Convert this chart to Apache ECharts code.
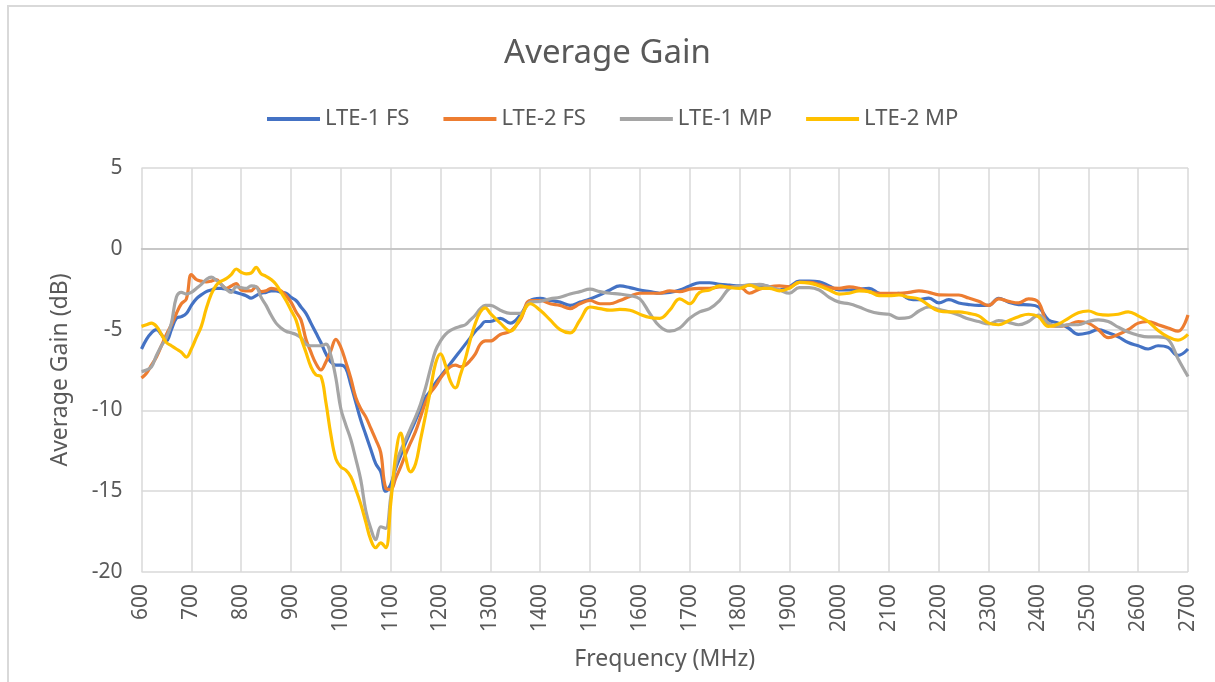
<!DOCTYPE html>
<html>
<head>
<meta charset="utf-8">
<style>
  html, body { margin: 0; padding: 0; background: #fff; }
  #chart { width: 1215px; height: 682px; }
</style>
<script src="https://cdn.jsdelivr.net/npm/echarts@6/dist/echarts.min.js"></script>
</head>
<body>
<div id="chart"></div>
<script>
// frequency grid (MHz): 10 MHz steps up to 1300, then 20 MHz steps
var freq = [
  600, 610, 620, 630, 640, 650, 660, 670, 680, 690,
  700, 710, 720, 730, 740, 750, 760, 770, 780, 790,
  800, 810, 820, 830, 840, 850, 860, 870, 880, 890,
  900, 910, 920, 930, 940, 950, 960, 970, 980, 990,
  1000, 1010, 1020, 1030, 1040, 1050, 1060, 1070, 1080, 1090,
  1100, 1110, 1120, 1130, 1140, 1150, 1160, 1170, 1180, 1190,
  1200, 1210, 1220, 1230, 1240, 1250, 1260, 1270, 1280, 1290,
  1300,
  1320, 1340, 1360, 1380, 1400, 1420, 1440, 1460, 1480, 1500,
  1520, 1540, 1560, 1580, 1600, 1620, 1640, 1660, 1680, 1700,
  1720, 1740, 1760, 1780, 1800, 1820, 1840, 1860, 1880, 1900,
  1920, 1940, 1960, 1980, 2000, 2020, 2040, 2060, 2080, 2100,
  2120, 2140, 2160, 2180, 2200, 2220, 2240, 2260, 2280, 2300,
  2320, 2340, 2360, 2380, 2400, 2420, 2440, 2460, 2480, 2500,
  2520, 2540, 2560, 2580, 2600, 2620, 2640, 2660, 2680, 2700
];

var lte1FS = [
  -6.2, -5.6, -5.2, -5.0, -5.3, -5.7, -5.0, -4.3, -4.2, -4.0,
  -3.5, -3.1, -2.85, -2.65, -2.55, -2.45, -2.45, -2.5, -2.6, -2.7,
  -2.8, -2.9, -3.05, -2.9, -2.75, -2.7, -2.6, -2.6, -2.7, -2.75,
  -3.0, -3.2, -3.6, -4.0, -4.6, -5.2, -5.8, -6.5, -7.0, -7.2,
  -7.2, -7.4, -8.4, -9.5, -10.6, -11.5, -12.4, -13.3, -13.8, -15.0,
  -14.6, -13.6, -12.8, -12.0, -11.3, -10.6, -9.9, -9.2, -8.8, -8.3,
  -7.9, -7.5, -7.1, -6.7, -6.3, -5.9, -5.5, -5.1, -4.8, -4.5,
  -4.5,
  -4.3, -4.6, -4.1, -3.2, -3.06, -3.2, -3.3, -3.5, -3.3, -3.1,
  -2.85, -2.55, -2.3, -2.4, -2.55, -2.65, -2.75, -2.7, -2.55, -2.3,
  -2.1, -2.1, -2.2, -2.25, -2.3, -2.25, -2.25, -2.35, -2.55, -2.35,
  -2.0, -2.0, -2.05, -2.3, -2.55, -2.55, -2.5, -2.45, -2.75, -2.85,
  -2.75, -3.1, -3.15, -3.05, -3.35, -3.15, -3.35, -3.45, -3.5, -3.5,
  -3.06, -3.3, -3.45, -3.47, -3.6, -4.4, -4.6, -4.9, -5.3, -5.2,
  -5.0, -5.2, -5.45, -5.8, -6.0, -6.2, -6.0, -6.1, -6.6, -6.2
];

var lte2FS = [
  -8.0, -7.7, -7.2, -6.7, -6.0, -5.3, -4.7, -4.0, -3.4, -3.1,
  -1.6, -1.9, -2.0, -2.05, -2.0, -1.9, -2.2, -2.45, -2.3, -2.15,
  -2.55, -2.6, -2.6, -2.35, -2.65, -2.6, -2.45, -2.5, -2.6, -2.9,
  -3.3, -3.9, -4.4, -5.6, -6.4, -7.1, -7.5, -7.0, -6.3, -5.6,
  -6.1, -7.0, -8.0, -9.2, -9.9, -10.4, -11.1, -11.8, -12.6, -14.8,
  -14.9, -14.2, -13.5, -12.7, -12.0, -11.3, -10.4, -9.5, -8.9, -8.5,
  -8.0, -7.6, -7.3, -7.2, -7.3, -7.2, -6.9, -6.5, -5.9, -5.7,
  -5.7,
  -5.3, -5.1, -4.4, -3.2, -3.2, -3.4, -3.5, -3.7, -3.4, -3.2,
  -3.4, -3.4, -3.2, -2.95, -2.75, -2.75, -2.75, -2.6, -2.65, -2.5,
  -2.45, -2.45, -2.35, -2.35, -2.35, -2.75, -2.5, -2.35, -2.3, -2.35,
  -2.08, -2.08, -2.2, -2.4, -2.45, -2.35, -2.45, -2.65, -2.75, -2.75,
  -2.75, -2.7, -2.6, -2.7, -2.85, -2.86, -2.86, -3.05, -3.25, -3.5,
  -3.1, -3.25, -3.35, -3.1, -3.3, -4.7, -4.8, -4.7, -4.5, -4.6,
  -5.0, -5.5, -5.3, -5.0, -4.6, -4.5, -4.7, -4.9, -5.1, -4.1
];

var lte1MP = [
  -7.6, -7.5, -7.3, -6.6, -6.0, -5.5, -4.6, -3.0, -2.7, -2.8,
  -2.7, -2.45, -2.2, -1.9, -1.75, -1.95, -2.2, -2.5, -2.7, -2.35,
  -2.4, -2.45, -2.3, -2.35, -3.0, -3.5, -4.1, -4.6, -4.9, -5.1,
  -5.2, -5.3, -5.5, -5.9, -6.0, -6.0, -6.0, -5.9, -6.6, -8.0,
  -9.9, -10.9, -11.8, -13.0, -14.3, -16.2, -17.3, -18.0, -17.2, -17.3,
  -15.4, -13.4, -12.5, -11.8, -11.1, -10.4, -9.6, -8.6, -7.4, -6.3,
  -5.7, -5.3, -5.05, -4.9, -4.8, -4.7, -4.4, -4.1, -3.7, -3.5,
  -3.5,
  -3.8, -4.0, -4.0, -3.3, -3.25, -3.1, -3.0, -2.8, -2.65, -2.5,
  -2.65, -2.75, -2.8, -2.9, -3.1, -4.0, -4.8, -5.1, -4.9, -4.3,
  -3.9, -3.7, -3.2, -2.45, -2.3, -2.25, -2.2, -2.35, -2.55, -2.75,
  -2.4, -2.4, -2.55, -3.0, -3.3, -3.4, -3.6, -3.85, -4.0, -4.05,
  -4.3, -4.25, -3.85, -3.6, -3.75, -3.9, -4.1, -4.35, -4.5, -4.65,
  -4.45, -4.55, -4.7, -4.5, -4.1, -4.6, -4.8, -4.7, -4.7, -4.5,
  -4.4, -4.5, -4.85, -5.15, -5.35, -5.45, -5.45, -5.6, -6.8, -7.9
];

var lte2MP = [
  -4.8, -4.7, -4.6, -4.8, -5.3, -5.8, -6.0, -6.2, -6.4, -6.7,
  -6.2, -5.5, -4.8, -3.7, -2.8, -2.25, -2.0, -1.85, -1.6, -1.25,
  -1.45, -1.55, -1.5, -1.15, -1.55, -1.7, -1.9, -2.2, -2.7, -3.2,
  -3.8, -4.4, -5.5, -6.4, -7.3, -7.8, -7.9, -9.5, -11.5, -13.0,
  -13.5, -13.7, -14.1, -14.9, -15.8, -16.9, -18.0, -18.5, -18.2, -18.5,
  -15.8, -12.8, -11.4, -12.9, -13.8, -13.3, -11.8, -10.3, -8.7, -7.1,
  -6.5, -7.2, -8.2, -8.6, -7.8, -6.8, -5.6, -4.6, -3.9, -3.65,
  -4.0,
  -4.6, -5.1, -4.3, -3.4, -3.8, -4.4, -5.0, -5.2, -4.4, -3.6,
  -3.7, -3.8, -3.75, -3.8, -4.05, -4.25, -4.3, -3.8, -3.1, -3.4,
  -2.7, -2.55, -2.3, -2.4, -2.45, -2.25, -2.45, -2.45, -2.6, -2.45,
  -2.08, -2.12, -2.3, -2.55, -2.8, -2.75, -2.6, -2.65, -2.9, -2.9,
  -2.86, -3.0, -3.1, -3.5, -3.85, -3.9, -3.9, -4.0, -4.15, -4.6,
  -4.7, -4.45, -4.2, -4.05, -4.2, -4.8, -4.65, -4.3, -3.95, -3.85,
  -4.05, -4.1, -4.05, -3.9, -4.15, -4.5, -5.05, -5.45, -5.65, -5.3
];

var seriesNames = ['LTE-1 FS', 'LTE-2 FS', 'LTE-1 MP', 'LTE-2 MP'];
var seriesColors = ['#4472C4', '#ED7D31', '#A5A5A5', '#FFC000'];
var seriesValues = [lte1FS, lte2FS, lte1MP, lte2MP];

var chartDom = document.getElementById('chart');
var myChart = echarts.init(chartDom);
var option;

var textColor = '#595959';
var fontFamily = '"Noto Sans", sans-serif';

option = {
    animation: false,
    backgroundColor: '#fff',
    textStyle: { fontFamily: fontFamily },
    graphic: [
        {
            type: 'rect',
            shape: { x: 8, y: 6, width: 1220, height: 700 },
            style: { fill: 'none', stroke: '#d9d9d9', lineWidth: 2 },
            silent: true
        }
    ],
    title: {
        text: 'Average Gain',
        left: 'center',
        top: 32,
        textStyle: { color: textColor, fontSize: 33, fontWeight: 'normal', fontFamily: fontFamily }
    },
    legend: {
        data: seriesNames,
        left: 262,
        top: 103,
        icon: 'rect',
        itemWidth: 53,
        itemHeight: 4,
        itemGap: 34,
        textStyle: { color: textColor, fontSize: 22, fontFamily: fontFamily }
    },
    grid: {
        left: 141.5,
        right: 27,
        top: 168,
        bottom: 110
    },
    xAxis: {
        type: 'value',
        min: 600,
        max: 2700,
        interval: 100,
        name: 'Frequency (MHz)',
        nameLocation: 'middle',
        nameGap: 76,
        nameTextStyle: { color: textColor, fontSize: 23 },
        axisLine: { show: true, lineStyle: { color: '#bfbfbf', width: 1.5 } },
        axisTick: { show: false },
        axisLabel: {
            rotate: 90, color: textColor, fontSize: 21, margin: 12,
            formatter: function (v) { return String(v); }
        },
        splitLine: { show: true, lineStyle: { color: '#d9d9d9', width: 1.5 } }
    },
    yAxis: {
        type: 'value',
        min: -20,
        max: 5,
        interval: 5,
        name: 'Average Gain (dB)',
        nameLocation: 'middle',
        nameGap: 70,
        nameTextStyle: { color: textColor, fontSize: 23 },
        axisLine: { show: false },
        axisTick: { show: false },
        axisLabel: { color: textColor, fontSize: 21, margin: 19 },
        splitLine: { show: true, lineStyle: { color: '#d9d9d9', width: 1.5 } }
    },
    series: seriesNames.map(function (name, k) {
        return {
            name: name,
            type: 'line',
            data: freq.map(function (f, i) { return [f, seriesValues[k][i]]; }),
            smooth: 0.4,
            showSymbol: false,
            symbol: 'none',
            clip: true,
            color: seriesColors[k],
            lineStyle: { color: seriesColors[k], width: 3.2 }
        };
    })
};

option && myChart.setOption(option);
</script>
</body>
</html>
